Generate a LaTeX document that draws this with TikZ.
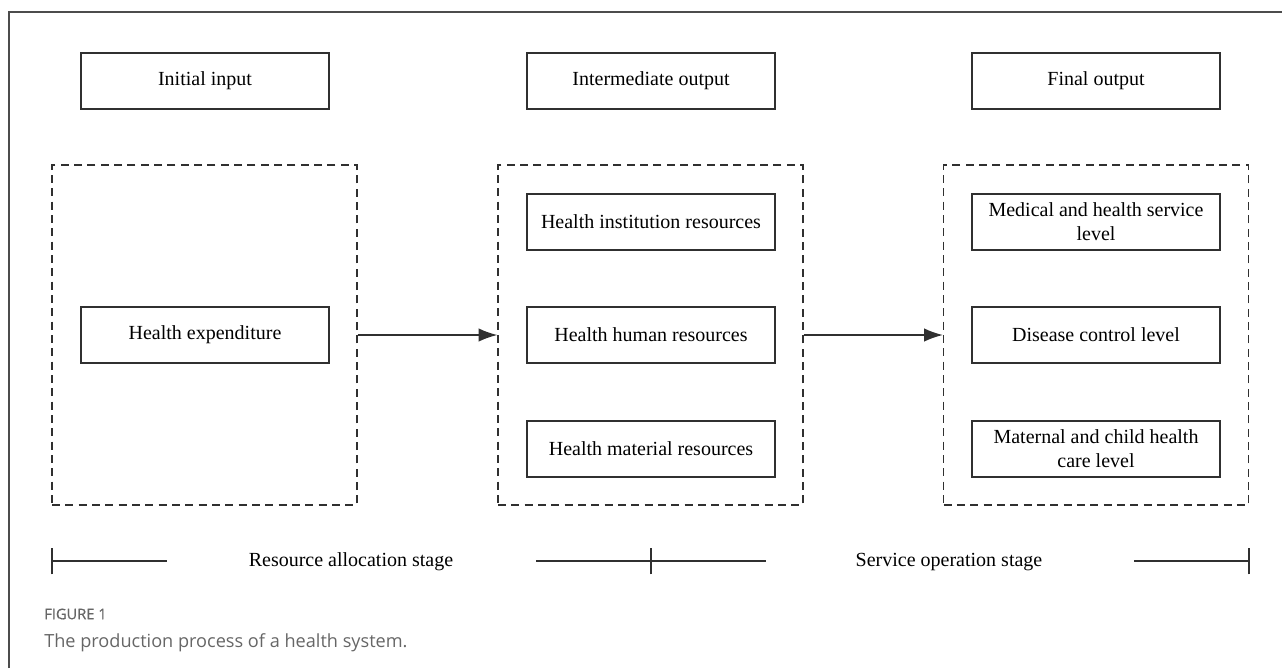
\documentclass[tikz,border=0pt]{standalone}
\usepackage{fontspec}
\setmainfont{Liberation Serif}
\newfontfamily\capfont{Open Sans}
\newfontfamily\capfontb[FakeBold=0.6]{Open Sans}
\usepackage{xcolor}
\usetikzlibrary{arrows.meta}

\definecolor{linegray}{HTML}{303030}
\definecolor{capgray}{HTML}{666666}

\tikzset{
    stagebox/.style={draw=linegray,line width=1pt,minimum width=186pt,minimum height=42pt,
        inner sep=2pt,align=center,font=\fontsize{15}{18}\selectfont},
    groupbox/.style={draw=linegray,line width=1pt,dash pattern=on 6pt off 4pt,
        minimum width=228.75pt,minimum height=255pt,inner sep=0pt},
    flow/.style={draw=linegray,line width=1pt,-{Latex[length=14pt,width=10pt]}},
    bar/.style={draw=linegray,line width=1pt},
    stagetext/.style={font=\fontsize{15}{18}\selectfont}
}

\begin{document}
\begin{tikzpicture}[x=0.75pt,y=-0.75pt]
        \useasboundingbox (0,0) rectangle (1282,668);
        % page frame, open at right and bottom
        \draw[bar,draw=black!70] (9,668) -- (9,12) -- (1282,12);

        % column headings
        \node[stagebox] (initial) at (205,81) {Initial input};
        \node[stagebox] (intermediate) at (651,81) {Intermediate output};
        \node[stagebox] (final) at (1096,81) {Final output};

        % dashed groups
        \node[groupbox] (grpA) at (204.5,335) {};
        \node[groupbox] (grpB) at (650.5,335) {};
        \node[groupbox] (grpC) at (1096,335) {};

        \node[stagebox] (expend) at (205,335) {Health expenditure};

        \node[stagebox] (inst) at (651,222) {Health institution resources};
        \node[stagebox] (human) at (651,335) {Health human resources};
        \node[stagebox] (material) at (651,449) {Health material resources};

        \node[stagebox] (medical) at (1096,222) {Medical and health service\\level};
        \node[stagebox] (disease) at (1096,335) {Disease control level};
        \node[stagebox] (maternal) at (1096,449) {Maternal and child health\\care level};

        \draw[flow] (grpA.east) -- (grpB.west);
        \draw[flow] (grpC.west -| grpB.east) -- (grpC.west);

        % stage bar
        \coordinate (tickL) at (52,561);
        \coordinate (tickM) at (651,561);
        \coordinate (tickR) at (1249,561);
        \node[stagetext] (alloc) at (351,562) {Resource allocation stage};
        \node[stagetext] (service) at (949,562) {Service operation stage};
        \draw[bar] (tickL) -- (167,561);
        \draw[bar] (536,561) -- (766,561);
        \draw[bar] (1134,561) -- (tickR);
        \foreach \t in {tickL,tickM,tickR}
            \draw[bar] ([yshift=-10pt]\t) -- ([yshift=10pt]\t);

        % caption
        \node[anchor=west,inner sep=0pt,text=capgray,font=\capfontb\fontsize{11}{13}\selectfont] (fig) at (44,614) {FIGURE 1};
        \node[anchor=west,inner sep=0pt,text=capgray,font=\capfont\fontsize{13.6}{16}\selectfont] (cap) at (44,643) {The production process of a health system.};
    \end{tikzpicture}
\end{document}
